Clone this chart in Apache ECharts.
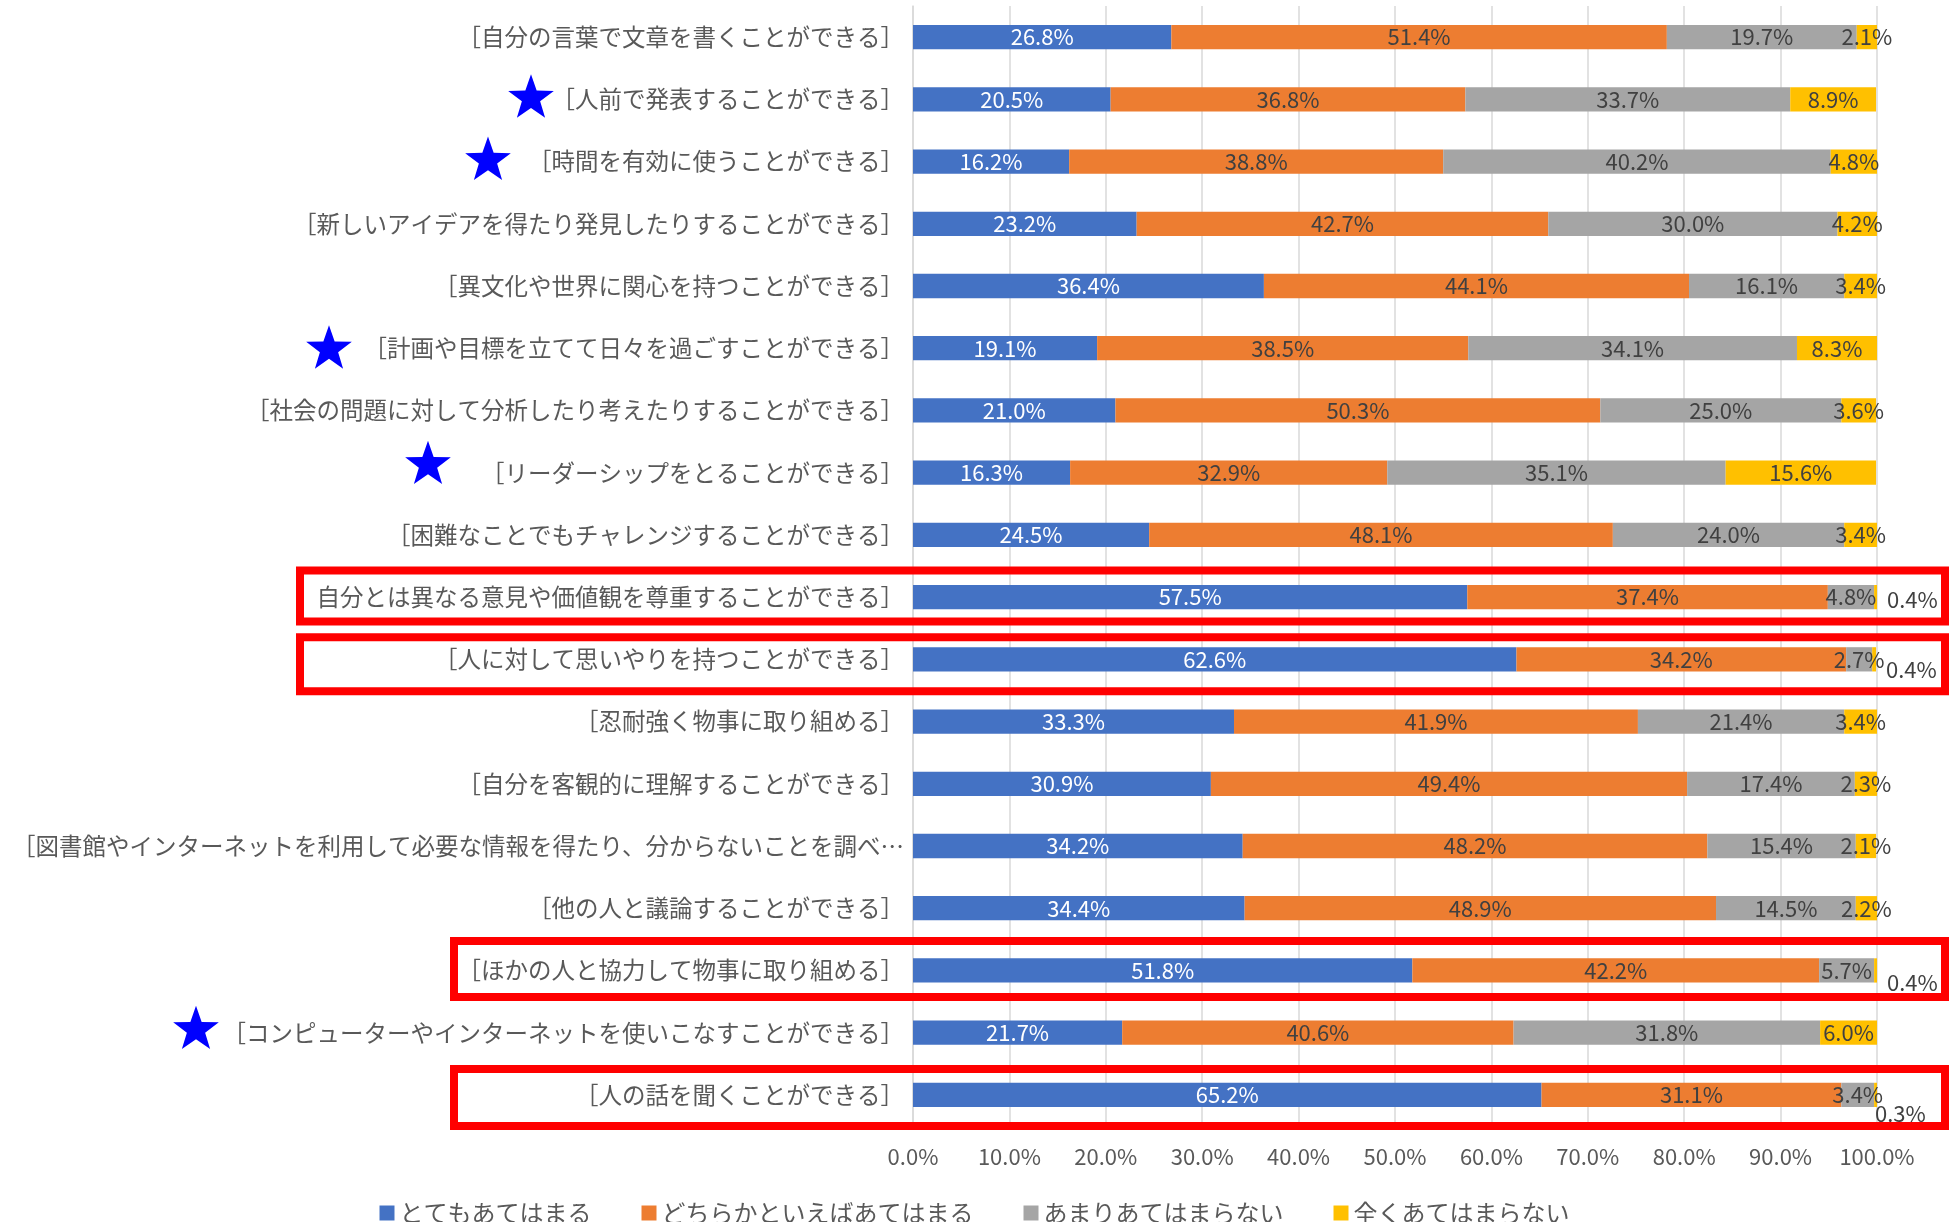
<!DOCTYPE html>
<html>
<head>
<meta charset="utf-8">
<script src="https://cdn.jsdelivr.net/npm/echarts@6/dist/echarts.min.js"></script>
<style>
html,body{margin:0;padding:0;background:#fff;}
#c{width:1949px;height:1222px;}
</style>
</head>
<body>
<div id="c"></div>
<script>
const categories = [
  '［自分の言葉で文章を書くことができる］',
  '［人前で発表することができる］',
  '［時間を有効に使うことができる］',
  '［新しいアイデアを得たり発見したりすることができる］',
  '［異文化や世界に関心を持つことができる］',
  '［計画や目標を立てて日々を過ごすことができる］',
  '［社会の問題に対して分析したり考えたりすることができる］',
  '［リーダーシップをとることができる］',
  '［困難なことでもチャレンジすることができる］',
  '自分とは異なる意見や価値観を尊重することができる］',
  '［人に対して思いやりを持つことができる］',
  '［忍耐強く物事に取り組める］',
  '［自分を客観的に理解することができる］',
  '［図書館やインターネットを利用して必要な情報を得たり、分からないことを調べ…',
  '［他の人と議論することができる］',
  '［ほかの人と協力して物事に取り組める］',
  '［コンピューターやインターネットを使いこなすことができる］',
  '［人の話を聞くことができる］'
];
const seriesNames = ['とてもあてはまる', 'どちらかといえばあてはまる', 'あまりあてはまらない', '全くあてはまらない'];
const veryTrue   = [26.8, 20.5, 16.2, 23.2, 36.4, 19.1, 21.0, 16.3, 24.5, 57.5, 62.6, 33.3, 30.9, 34.2, 34.4, 51.8, 21.7, 65.2];
const ratherTrue = [51.4, 36.8, 38.8, 42.7, 44.1, 38.5, 50.3, 32.9, 48.1, 37.4, 34.2, 41.9, 49.4, 48.2, 48.9, 42.2, 40.6, 31.1];
const notMuch    = [19.7, 33.7, 40.2, 30.0, 16.1, 34.1, 25.0, 35.1, 24.0, 4.8, 2.7, 21.4, 17.4, 15.4, 14.5, 5.7, 31.8, 3.4];
const notAtAll   = [2.1, 8.9, 4.8, 4.2, 3.4, 8.3, 3.6, 15.6, 3.4, 0.4, 0.4, 3.4, 2.3, 2.1, 2.2, 0.4, 6.0, 0.3];
const xTicks = [0, 10, 20, 30, 40, 50, 60, 70, 80, 90, 100];
const starredRows = [1, 2, 5, 7, 16];
const boxedRows = [9, 10, 15, 17];

// decoration layout (pixel placement, kept apart from data)
const starLayout = { 1: [531, -1], 2: [488, -1], 5: [329, 1], 7: [428, -8], 16: [196, -3] };
const boxLayout = { 9: [300, -26.7, 24.3], 10: [300, -22, 32], 15: [454, -29.5, 26.5], 17: [454, -26, 31] };
const outsideLabelOffset = { 9: [0, 3], 10: [0, 10], 15: [0, 12], 17: [-12, 19] };

const colors = ['#4472C4', '#ED7D31', '#A5A5A5', '#FFC000'];
const FONT = 'Noto Sans CJK JP';

const chart = echarts.init(document.getElementById('c'), null, { renderer: 'canvas' });

function fmt(p) { return (typeof p.value === 'number' ? p.value : p.value.value).toFixed(1) + '%'; }

const allData = [veryTrue, ratherTrue, notMuch, notAtAll];
const series = allData.map((arr, si) => ({
  name: seriesNames[si],
  type: 'bar',
  stack: 'total',
  barCategoryGap: '61%',
  itemStyle: { color: colors[si] },
  label: {
    show: true,
    position: 'inside',
    formatter: fmt,
    fontFamily: FONT,
    fontSize: 22,
    color: si === 0 ? '#FFFFFF' : '#404040'
  },
  data: arr.map((v, i) => {
    if (si === 3 && outsideLabelOffset[i]) {
      return { value: v, label: { position: 'right', distance: 10, offset: outsideLabelOffset[i], color: '#404040' } };
    }
    return v;
  })
}));

chart.setOption({
  animation: false,
  color: colors,
  textStyle: { fontFamily: FONT },
  grid: { left: 913, right: 72, top: 6, bottom: 96, containLabel: false, outerBoundsMode: 'none' },
  xAxis: {
    type: 'value',
    min: xTicks[0], max: xTicks[xTicks.length - 1], interval: xTicks[1] - xTicks[0],
    axisLine: { show: false },
    axisTick: { show: false },
    splitLine: { show: true, lineStyle: { color: '#D9D9D9', width: 1.5 } },
    axisLabel: {
      fontFamily: FONT, fontSize: 22, color: '#595959', margin: 20,
      formatter: v => v.toFixed(1) + '%'
    }
  },
  yAxis: {
    type: 'category',
    inverse: true,
    data: categories,
    axisLine: { show: true, lineStyle: { color: '#D9D9D9', width: 1.5 } },
    axisTick: { show: false },
    axisLabel: { fontFamily: FONT, fontSize: 23.5, color: '#595959', margin: 9 }
  },
  legend: {
    top: 1196,
    left: 'center',
    itemWidth: 15,
    itemHeight: 15,
    itemGap: 50,
    icon: 'rect',
    textStyle: { fontFamily: FONT, fontSize: 24, color: '#595959' },
    data: seriesNames
  },
  series: series
});

function starPoints(cx, cy, R, r) {
  const pts = [];
  for (let k = 0; k < 10; k++) {
    const rad = k % 2 === 0 ? R : r;
    const a = -Math.PI / 2 + k * Math.PI / 5;
    pts.push([cx + rad * Math.cos(a), cy + rad * Math.sin(a)]);
  }
  return pts;
}

const graphics = [];
starredRows.forEach(i => {
  const py = chart.convertToPixel({ gridIndex: 0 }, [0, i])[1];
  const L = starLayout[i];
  graphics.push({
    type: 'polygon',
    shape: { points: starPoints(L[0], py + L[1], 24, 9.6) },
    style: { fill: '#0000FF' },
    z: 100
  });
});
boxedRows.forEach(i => {
  const py = chart.convertToPixel({ gridIndex: 0 }, [0, i])[1];
  const B = boxLayout[i];
  graphics.push({
    type: 'rect',
    shape: { x: B[0], y: py + B[1], width: 1945 - B[0], height: B[2] - B[1] },
    style: { fill: null, stroke: '#FF0000', lineWidth: 8 },
    z: 100
  });
});
chart.setOption({ graphic: graphics });
</script>
</body>
</html>
